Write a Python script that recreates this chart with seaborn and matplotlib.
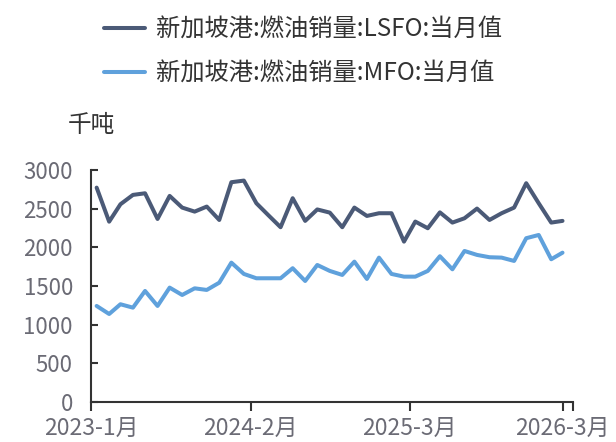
import matplotlib
matplotlib.use("Agg")
import matplotlib.pyplot as plt
import pandas as pd
import seaborn as sns

# monthly values, 2023-01 .. 2026-03 (千吨)
lsfo = [2772, 2332, 2557, 2678, 2699, 2367, 2665, 2514, 2462, 2527,
        2354, 2842, 2863, 2570, 2419, 2260, 2635, 2342, 2490, 2449,
        2260, 2514, 2406, 2441, 2441, 2074, 2333, 2247, 2452, 2320,
        2376, 2501, 2354, 2441, 2514, 2829, 2570, 2320, 2342]
mfo = [1242, 1138, 1264, 1220, 1436, 1242, 1479, 1384, 1470, 1449,
       1543, 1802, 1656, 1600, 1600, 1600, 1730, 1565, 1772, 1695,
       1643, 1815, 1591, 1867, 1656, 1621, 1621, 1695, 1885, 1716,
       1953, 1902, 1872, 1867, 1824, 2118, 2160, 1846, 1931]
series_names = ["新加坡港:燃油销量:LSFO:当月值", "新加坡港:燃油销量:MFO:当月值"]
colors = ["#4b5a77", "#5fa1dc"]
tick_dates = ["2023-01-01", "2024-02-01", "2025-03-01", "2026-03-15"]
tick_labels = ["2023-1月", "2024-2月", "2025-3月", "2026-3月"]

dates = pd.date_range("2023-01-01", "2026-03-01", freq="MS") + pd.Timedelta(days=14)
df = pd.DataFrame({"date": dates, series_names[0]: lsfo, series_names[1]: mfo})
df = df.melt(id_vars="date", var_name="series", value_name="value")

sns.set_theme(style="white")
plt.rcParams["font.family"] = ["Noto Sans CJK SC", "DejaVu Sans"]

fig = plt.figure(figsize=(6.16, 4.42), dpi=100)
ax = fig.add_axes([91 / 616, 40 / 442, (573 - 91) / 616, (402 - 170) / 442])

sns.lineplot(data=df, x="date", y="value", hue="series", hue_order=series_names,
             palette=colors, linewidth=2.9, ax=ax, legend=False)

ax.set_ylim(0, 3000)
ax.set_yticks(range(0, 3001, 500))
ax.set_xlim(pd.Timestamp("2023-01-01"), pd.Timestamp("2026-04-10"))
xt = [pd.Timestamp(d) for d in tick_dates]
ax.set_xticks(xt + [pd.Timestamp("2026-04-10")])
ax.set_xticklabels(tick_labels + [""])
ax.set_xlabel("")
ax.set_ylabel("")

for s in ["top", "right"]:
    ax.spines[s].set_visible(False)
for s in ["left", "bottom"]:
    ax.spines[s].set_color("#333333")
    ax.spines[s].set_linewidth(1.5)

ax.tick_params(axis="y", direction="in", length=5, width=1.5, color="#333333",
               pad=13, labelsize=16, labelcolor="#6b6b75", left=True)
ax.tick_params(axis="x", direction="out", length=6.5, width=1.5, color="#333333",
               pad=4, labelsize=16.5, labelcolor="#6b6b75", bottom=True)

fig.text(91 / 616, 1 - 126 / 442, "千吨", ha="center", va="center",
         fontsize=17, color="#333333")

handles = ax.lines[:2]
fig.legend(handles, series_names, loc="upper left",
           bbox_to_anchor=(104 / 616, 1 - 17 / 442), frameon=False,
           fontsize=17.5, handlelength=1.7, handletextpad=0.42,
           labelspacing=0.72, borderpad=0, borderaxespad=0,
           labelcolor="#333333")

fig.savefig("out.png", dpi=100)
